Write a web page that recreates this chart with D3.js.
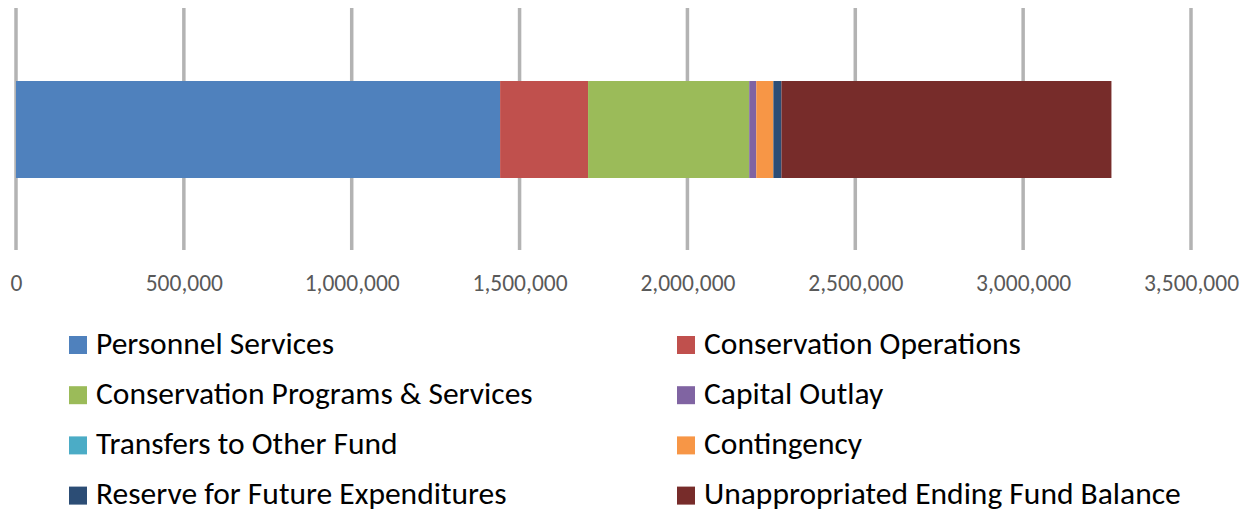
<!DOCTYPE html>
<html><head><meta charset="utf-8">
<script src="https://cdn.jsdelivr.net/npm/d3@7"></script>
<style>body{margin:0;background:#fff}svg{display:block}</style>
</head><body>
<svg id="c" width="1250" height="513"></svg>
<script>
const categories = ["Personnel Services","Conservation Operations","Conservation Programs & Services","Capital Outlay","Transfers to Other Fund","Contingency","Reserve for Future Expenditures","Unappropriated Ending Fund Balance"];
const values = [1442000, 262000, 480000, 21000, 0, 51000, 24000, 983000];
const colors = ["#4F81BD","#C0504D","#9BBB59","#8064A2","#4BACC6","#F79646","#2C4D75","#772C2A"];
const tickValues = [0,500000,1000000,1500000,2000000,2500000,3000000,3500000];

const svg = d3.select("#c");
const font = "Carlito, Calibri, 'Open Sans', sans-serif";
const x = d3.scaleLinear().domain([0,3500000]).range([16,1191]);

// gridlines
svg.append("g").selectAll("line").data(tickValues).join("line")
  .attr("x1",d=>x(d)).attr("x2",d=>x(d)).attr("y1",8).attr("y2",250)
  .attr("stroke","#b3b3b3").attr("stroke-width",3.5);

// stacked bar
let acc=0;
const segs = values.map((v,i)=>{const s={x0:acc,x1:acc+v,c:colors[i]};acc+=v;return s;});
svg.append("g").selectAll("rect").data(segs).join("rect")
  .attr("x",d=>x(d.x0)).attr("width",d=>x(d.x1)-x(d.x0))
  .attr("y",81).attr("height",97).attr("fill",d=>d.c);

// axis labels
const axis = d3.axisBottom(x).tickValues(tickValues).tickSize(0).tickPadding(0).tickFormat(d3.format(","));
const ag = svg.append("g").attr("transform","translate(0,283)").call(axis);
ag.select(".domain").remove();
ag.selectAll("text").attr("font-family",font).attr("font-size",23.5).attr("fill","#595959").attr("dy","0.35em");

// legend
const lg = svg.append("g");
categories.forEach((c,i)=>{
  const col=i%2,row=Math.floor(i/2);
  const gx = col===0?69:677, gy=336+row*50.2;
  lg.append("rect").attr("x",gx).attr("y",gy).attr("width",18).attr("height",18).attr("fill",colors[i]);
  lg.append("text").attr("x",gx+27).attr("y",gy+17.5)
    .attr("font-family",font).attr("font-size",31.5).attr("fill","#000").text(c);
});
</script>
</body></html>
